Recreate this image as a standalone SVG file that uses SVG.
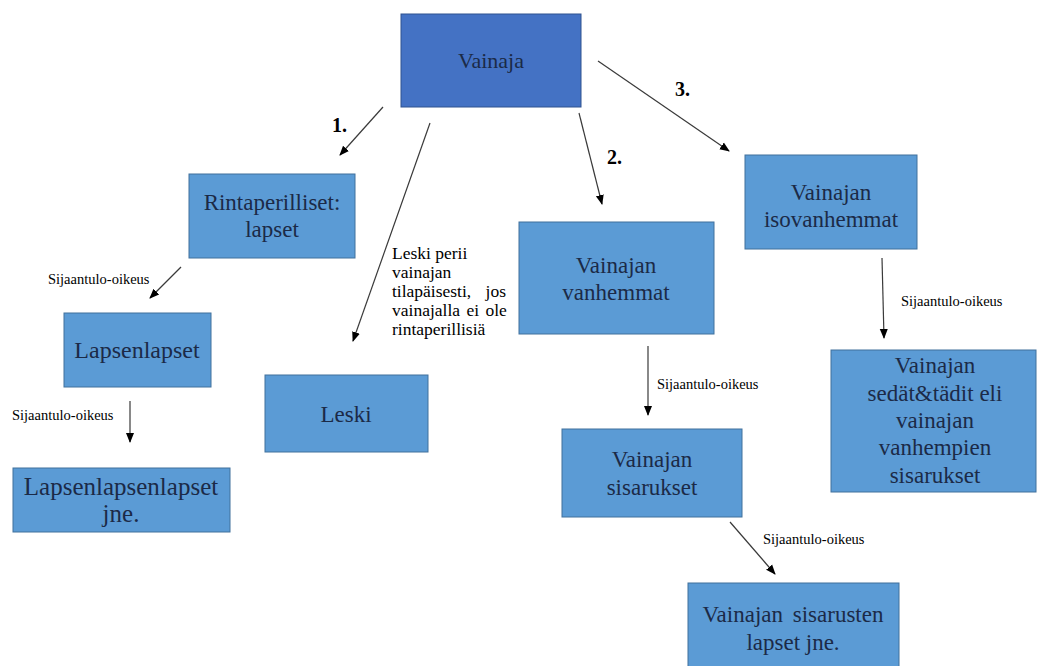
<svg xmlns="http://www.w3.org/2000/svg" width="1037" height="666" viewBox="0 0 1037 666">
<style>
.box{fill:#5B9BD5;stroke:#41719C;stroke-width:1}
.dark{fill:#4472C4;stroke:#2F528F;stroke-width:1}
text{font-family:'Liberation Serif','Times New Roman','DejaVu Serif',serif}
.t{font-size:23px;fill:#1B2A47;text-anchor:middle}
.s{font-size:14.5px;fill:#000}
.n{font-size:20px;font-weight:bold;fill:#000}
.note{font-size:17.5px;fill:#000}
.c{stroke:#3A3A3A;stroke-width:1.2;fill:none;marker-end:url(#ah)}
</style>
<defs>
<marker id="ah" markerUnits="userSpaceOnUse" markerWidth="10" markerHeight="10" viewBox="0 0 10 10" refX="9" refY="5" orient="auto">
<path d="M0,1 L10,5 L0,9 Z" fill="#000"/>
</marker>
</defs>
<rect width="1037" height="666" fill="#fff"/>
<g id="connectors">
<line class="c" x1="383" y1="107" x2="340" y2="155"/>
<line class="c" x1="430" y1="123" x2="353" y2="341"/>
<line class="c" x1="579" y1="113" x2="602" y2="204"/>
<line class="c" x1="598" y1="61" x2="729" y2="151"/>
<line class="c" x1="181" y1="267" x2="150" y2="298"/>
<line class="c" x1="130" y1="401" x2="130" y2="442"/>
<line class="c" x1="648" y1="346" x2="648" y2="415"/>
<line class="c" x1="882" y1="258" x2="884" y2="338"/>
<line class="c" x1="730" y1="522" x2="775" y2="574"/>
<text class="n" x="332" y="132">1.</text>
<text class="n" x="607" y="164">2.</text>
<text class="n" x="675" y="96">3.</text>
<text class="s" x="48" y="284">Sijaantulo-oikeus</text>
<text class="s" x="12" y="420">Sijaantulo-oikeus</text>
<text class="s" x="657" y="389">Sijaantulo-oikeus</text>
<text class="s" x="901" y="306">Sijaantulo-oikeus</text>
<text class="s" x="763" y="544">Sijaantulo-oikeus</text>
<text class="note" x="392" y="259">Leski perii</text>
<text class="note" x="392" y="278">vainajan</text>
<text class="note" x="392" y="297" word-spacing="10">tilapäisesti, jos</text>
<text class="note" x="392" y="316" word-spacing="2">vainajalla ei ole</text>
<text class="note" x="392" y="335">rintaperillisiä</text>
</g>
<g id="vainaja">
<rect class="dark" x="401" y="14" width="180" height="93"/>
<text class="t" x="491" y="68" style="font-size:22px">Vainaja</text>
</g>
<g id="rintaperilliset">
<rect class="box" x="189" y="174" width="166" height="84"/>
<text class="t" x="272" y="210">Rintaperilliset:</text>
<text class="t" x="272" y="237">lapset</text>
</g>
<g id="lapsenlapset">
<rect class="box" x="64" y="313" width="147" height="74"/>
<text class="t" x="137" y="358" style="font-size:24px">Lapsenlapset</text>
</g>
<g id="lapsenlapsenlapset">
<rect class="box" x="13" y="468" width="217" height="64"/>
<text class="t" x="121" y="495" style="font-size:25px">Lapsenlapsenlapset</text>
<text class="t" x="121" y="522" style="font-size:25px">jne.</text>
</g>
<g id="leski">
<rect class="box" x="265" y="375" width="163" height="77"/>
<text class="t" x="346" y="422">Leski</text>
</g>
<g id="vanhemmat">
<rect class="box" x="519" y="222" width="195" height="112"/>
<text class="t" x="616" y="273">Vainajan</text>
<text class="t" x="616" y="300">vanhemmat</text>
</g>
<g id="isovanhemmat">
<rect class="box" x="745" y="155" width="172" height="94"/>
<text class="t" x="831" y="200">Vainajan</text>
<text class="t" x="831" y="227">isovanhemmat</text>
</g>
<g id="sisarukset">
<rect class="box" x="562" y="429" width="180" height="88"/>
<text class="t" x="652" y="467">Vainajan</text>
<text class="t" x="652" y="495">sisarukset</text>
</g>
<g id="sedat">
<rect class="box" x="831" y="350" width="205" height="142"/>
<text class="t" x="935" y="373">Vainajan</text>
<text class="t" x="935" y="401">sedät&amp;tädit eli</text>
<text class="t" x="935" y="428">vainajan</text>
<text class="t" x="935" y="455">vanhempien</text>
<text class="t" x="935" y="483">sisarukset</text>
</g>
<g id="sisarusten-lapset">
<rect class="box" x="688" y="583" width="211" height="90"/>
<text class="t" x="793" y="622" word-spacing="4">Vainajan sisarusten</text>
<text class="t" x="793" y="650">lapset jne.</text>
</g>
</svg>
